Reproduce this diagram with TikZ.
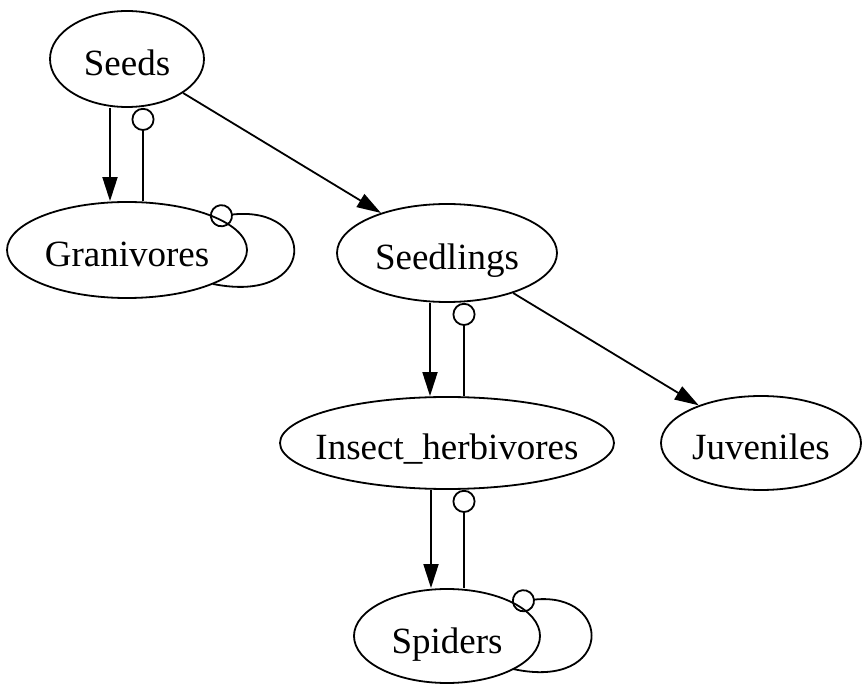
\documentclass[tikz,border=0pt]{standalone}
\usepackage{fontspec}
\setmainfont{Liberation Serif}
\usetikzlibrary{shapes.geometric,arrows.meta,calc}

\begin{document}
\begin{tikzpicture}[x=1pt,y=-1pt,
  state/.style={ellipse, draw, line width=1.8pt, inner sep=0pt,
    text height=34pt, text depth=0pt,
    font=\fontsize{37}{40}\selectfont},
  arr/.style={line width=1.8pt, -{Triangle[length=24pt,width=15pt]}},
  inh/.style={line width=1.8pt, -{Circle[open,length=23pt]}}]

\useasboundingbox (0,0) rectangle (863,684);

% species and life stages
\node[state, minimum width=154pt, minimum height=96pt] (Seeds)     at (127,59)  {\makebox[0pt]{Seeds}};
\node[state, minimum width=240pt, minimum height=96pt] (Gran)      at (127,250) {\makebox[0pt]{Granivores}};
\node[state, minimum width=220pt, minimum height=98pt] (Seedlings) at (447,253) {\makebox[0pt]{Seedlings}};
\node[state, minimum width=334pt, minimum height=92pt] (Insect)    at (447,443) {\makebox[0pt]{Insect\_herbivores}};
\node[state, minimum width=200pt, minimum height=94pt] (Juv)       at (761,443) {\makebox[0pt]{Juveniles}};
\node[state, minimum width=186pt, minimum height=94pt] (Spiders)   at (447,636) {\makebox[0pt]{Spiders}};

% positive links
\draw[arr] ([xshift=-17pt]Seeds.south) -- ([xshift=-17pt]Gran.north);
\draw[arr] (Seeds) -- (Seedlings);
\draw[arr] (Seedlings) -- (Juv);
\draw[arr] ([xshift=-17pt]Seedlings.south) -- ([xshift=-17pt]Insect.north);
\draw[arr] ([xshift=-16pt]Insect.south) -- ([xshift=-16pt]Spiders.north);

% negative links
\draw[inh] ([xshift=16pt]Gran.north) -- ([xshift=16pt]Seeds.south);
\draw[inh] ([xshift=17pt]Insect.north) -- ([xshift=17pt]Seedlings.south);
\draw[inh] ([xshift=17pt]Spiders.north) -- ([xshift=17pt]Insect.south);

% self-limitation loops
\draw[inh] ($(Gran)+(86,34)$) .. controls ($(Gran)+(191,55)$) and ($(Gran)+(191,-45)$) .. ($(Gran)+(83,-33)$);
\draw[inh] ($(Spiders)+(66,33)$) .. controls ($(Spiders)+(167,55)$) and ($(Spiders)+(167,-45)$) .. ($(Spiders)+(65,-34)$);
\end{tikzpicture}
\end{document}
